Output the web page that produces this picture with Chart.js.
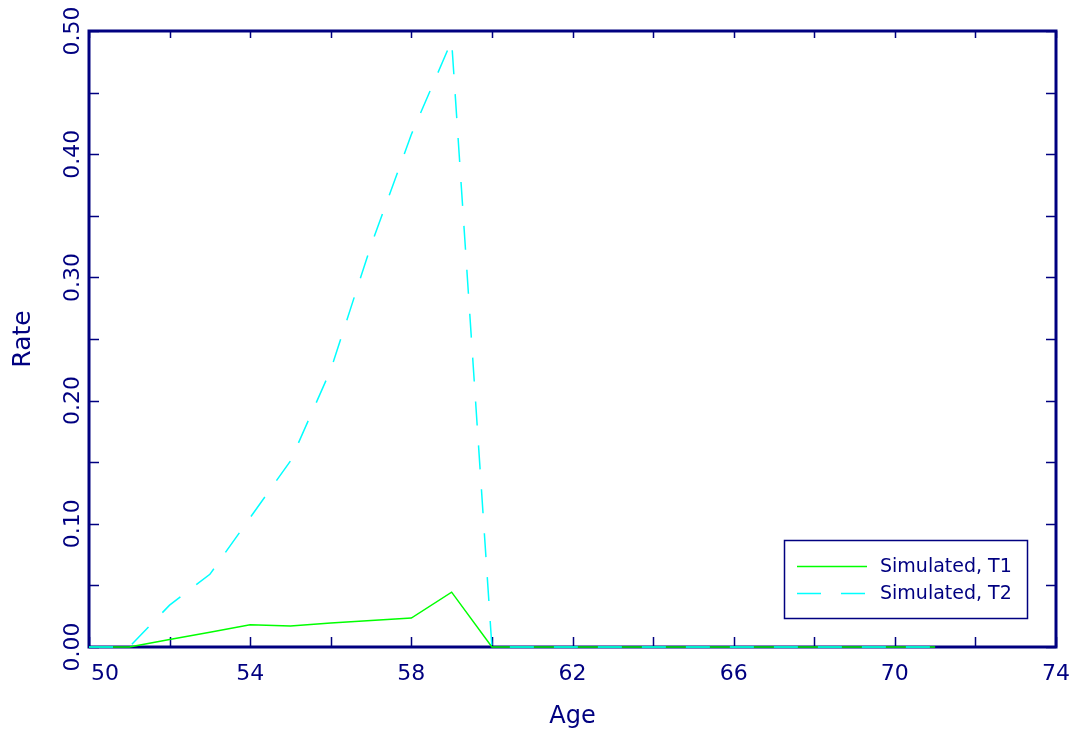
<!DOCTYPE html>
<html><head><meta charset="utf-8">
<script src="https://cdn.jsdelivr.net/npm/chart.js@4/dist/chart.umd.min.js"></script>
<style>html,body{margin:0;padding:0;background:#fff;}#wrap{width:1076px;height:739px;}</style>
</head><body><div id="wrap"><canvas id="c" width="1076" height="739"></canvas></div>
<script>
// ---- data ----
const ages = [50,51,52,53,54,55,56,57,58,59,60,61,62,63,64,65,66,67,68,69,70,71];
const t1 = [0,0,0.006,0.012,0.018,0.017,0.0195,0.0215,0.0235,0.0445,0,0,0,0,0,0,0,0,0,0,0,0];
const t2 = [0,0,0.034,0.059,0.105,0.151,0.225,0.326,0.416,0.492,0,0,0,0,0,0,0,0,0,0,0,0];
const seriesLabels = ['Simulated, T1','Simulated, T2'];
const xLabelTicks = [50,54,58,62,66,70,74];
const yLabelTicks = [0.0,0.1,0.2,0.3,0.4,0.5];
const xAxisTitle = 'Age';
const yAxisTitle = 'Rate';

const NAVY = '#000080';
const FONT = '"DejaVu Sans", sans-serif';

const toPts = (ys) => ages.map((a,i)=>({x:a,y:ys[i]}));

const framePlugin = {
  id:'frame',
  beforeDatasetsDraw(chart){
    const {ctx, chartArea:a, scales:{x,y}} = chart;
    ctx.save();
    ctx.strokeStyle = NAVY;
    ctx.lineWidth = 3;
    ctx.strokeRect(a.left, a.top, a.right-a.left, a.bottom-a.top);
    ctx.lineWidth = 1.5;
    ctx.beginPath();
    x.ticks.forEach(t=>{
      const px = Math.round(x.getPixelForValue(t.value))+0.5;
      ctx.moveTo(px, a.bottom); ctx.lineTo(px, a.bottom-10);
      ctx.moveTo(px, a.top); ctx.lineTo(px, a.top+7);
    });
    y.ticks.forEach(t=>{
      const py = Math.round(y.getPixelForValue(t.value))+0.5;
      ctx.moveTo(a.left, py); ctx.lineTo(a.left+10, py);
      ctx.moveTo(a.right, py); ctx.lineTo(a.right-10, py);
    });
    ctx.stroke();
    // tick labels
    ctx.fillStyle = NAVY;
    ctx.font = '22px ' + FONT;
    ctx.textBaseline = 'alphabetic';
    xLabelTicks.forEach((v,i)=>{
      const px = x.getPixelForValue(v);
      if (i === 0) { ctx.textAlign = 'left'; ctx.fillText(String(v), a.left+2, 680); }
      else { ctx.textAlign = 'center'; ctx.fillText(String(v), px, 680); }
    });
    yLabelTicks.forEach(v=>{
      const py = y.getPixelForValue(v);
      ctx.save();
      ctx.translate(a.left-10, py);
      ctx.rotate(-Math.PI/2);
      ctx.textAlign = 'center';
      ctx.fillText(v.toFixed(2), 0, 0);
      ctx.restore();
    });
    ctx.restore();
  },
  afterDraw(chart){
    const {ctx} = chart;
    const ds = chart.data.datasets;
    ctx.save();
    ctx.fillStyle = '#fff';
    ctx.fillRect(784, 540, 244, 79);
    ctx.strokeStyle = NAVY;
    ctx.lineWidth = 1.5;
    ctx.strokeRect(784.5, 540.5, 243, 78);
    const rows = [566.5, 593.5];
    ds.forEach((d,i)=>{
      ctx.strokeStyle = d.borderColor;
      ctx.lineWidth = d.borderWidth;
      ctx.setLineDash(d.borderDash || []);
      ctx.beginPath(); ctx.moveTo(797, rows[i]); ctx.lineTo(867, rows[i]); ctx.stroke();
      ctx.setLineDash([]);
      ctx.fillStyle = NAVY;
      ctx.font = '19px ' + FONT;
      ctx.textAlign = 'left';
      ctx.textBaseline = 'middle';
      ctx.fillText(d.label, 880, rows[i]+1);
    });
    ctx.restore();
  }
};

new Chart(document.getElementById('c'), {
  type:'line',
  data:{
    datasets:[
      {label:seriesLabels[0], data:toPts(t1), borderColor:'#00ff00', borderWidth:1.5, pointRadius:0, tension:0, fill:false, order:2, clip:false},
      {label:seriesLabels[1], data:toPts(t2), borderColor:'#00ffff', borderWidth:1.5, borderDash:[24,20], pointRadius:0, tension:0, fill:false, order:1, clip:false}
    ]
  },
  options:{
    responsive:false, maintainAspectRatio:false, animation:false, devicePixelRatio:1,
    layout:{padding:{left:0, top:31, right:20, bottom:0}},
    plugins:{legend:{display:false}, tooltip:{enabled:false}},
    scales:{
      x:{type:'linear', min:50, max:74, border:{display:false},
         grid:{display:false, drawTicks:false},
         ticks:{display:false, stepSize:2},
         title:{display:true, text:xAxisTitle, color:NAVY, font:{family:FONT, size:24}, padding:{top:0,bottom:8}},
         afterFit(s){ s.height = 92; }},
      y:{type:'linear', min:0, max:0.5, border:{display:false},
         grid:{display:false, drawTicks:false},
         ticks:{display:false, stepSize:0.05},
         title:{display:true, text:yAxisTitle, color:NAVY, font:{family:FONT, size:25}, padding:{top:8,bottom:0}},
         afterFit(s){ s.width = 89; }}
    }
  },
  plugins:[framePlugin]
});
</script></body></html>
